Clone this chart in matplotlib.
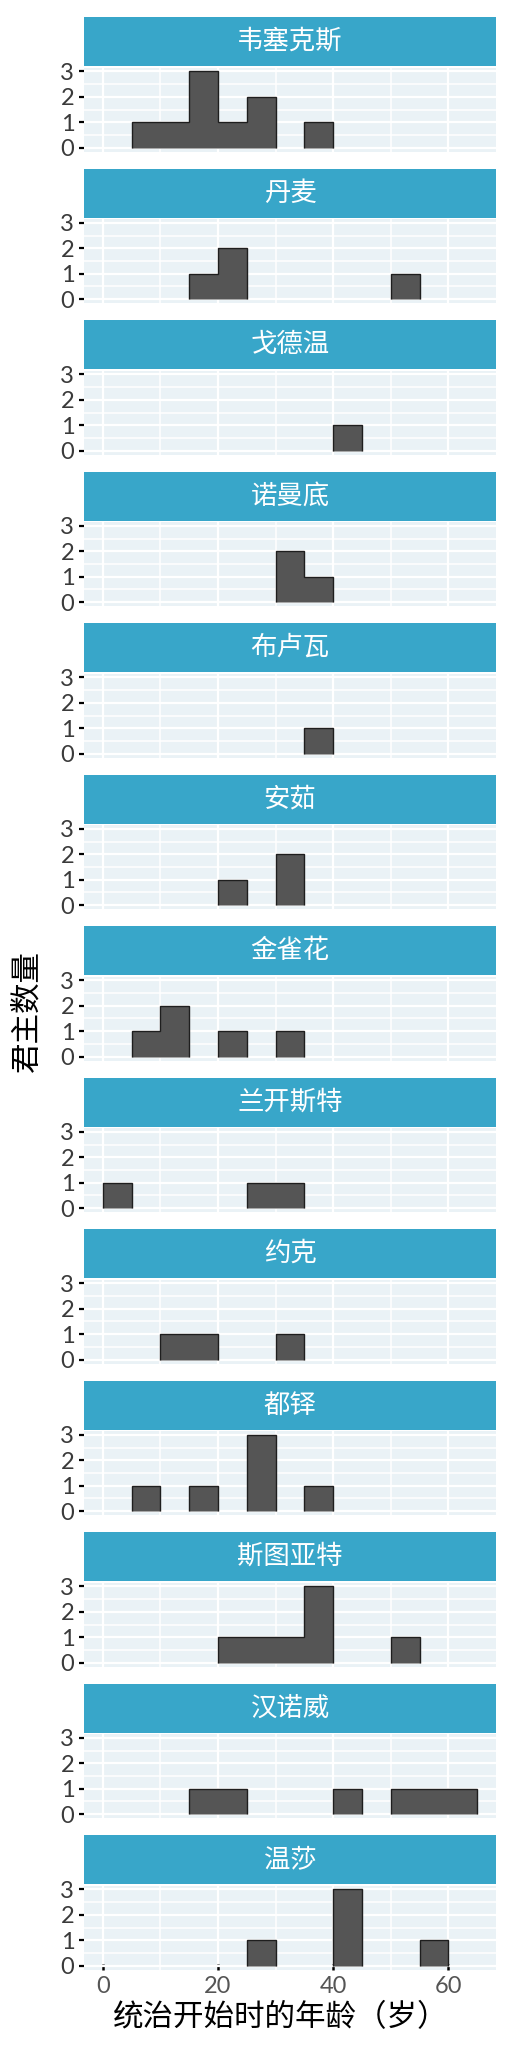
import numpy as np
import matplotlib
matplotlib.use("Agg")
import matplotlib.pyplot as plt

plt.rcParams['font.family'] = ['Lato', 'Noto Sans CJK SC', 'DejaVu Sans']

# houses, top to bottom
houses = ['韦塞克斯', '丹麦', '戈德温', '诺曼底', '布卢瓦', '安茹', '金雀花',
          '兰开斯特', '约克', '都铎', '斯图亚特', '汉诺威', '温莎']

# histogram bins of age at start of reign, width 5 years
bin_edges = [0, 5, 10, 15, 20, 25, 30, 35, 40, 45, 50, 55, 60, 65]

# number of monarchs per bin for each house
counts = {
    '韦塞克斯': [0, 1, 1, 3, 1, 2, 0, 1, 0, 0, 0, 0, 0],
    '丹麦':     [0, 0, 0, 1, 2, 0, 0, 0, 0, 0, 1, 0, 0],
    '戈德温':   [0, 0, 0, 0, 0, 0, 0, 0, 1, 0, 0, 0, 0],
    '诺曼底':   [0, 0, 0, 0, 0, 0, 2, 1, 0, 0, 0, 0, 0],
    '布卢瓦':   [0, 0, 0, 0, 0, 0, 0, 1, 0, 0, 0, 0, 0],
    '安茹':     [0, 0, 0, 0, 1, 0, 2, 0, 0, 0, 0, 0, 0],
    '金雀花':   [0, 1, 2, 0, 1, 0, 1, 0, 0, 0, 0, 0, 0],
    '兰开斯特': [1, 0, 0, 0, 0, 1, 1, 0, 0, 0, 0, 0, 0],
    '约克':     [0, 0, 1, 1, 0, 0, 1, 0, 0, 0, 0, 0, 0],
    '都铎':     [0, 1, 0, 1, 0, 3, 0, 1, 0, 0, 0, 0, 0],
    '斯图亚特': [0, 0, 0, 0, 1, 1, 1, 3, 0, 0, 1, 0, 0],
    '汉诺威':   [0, 0, 0, 1, 1, 0, 0, 0, 1, 0, 1, 1, 1],
    '温莎':     [0, 0, 0, 0, 0, 1, 0, 0, 3, 0, 0, 1, 0],
}

x_label = '统治开始时的年龄（岁）'
y_label = '君主数量'

W, H = 512, 2048
strip_col = '#38A6C9'
panel_col = '#EAF2F6'
bar_col = '#555555'
edge_col = '#1e1e1e'

fig = plt.figure(figsize=(W / 100, H / 100), dpi=100)

left, right = 84, 496
first_top = 17
step = 151.5
strip_h = 49
gap = 1.5
panel_h = 84


def fr(x, y, w, h):
    # pixel box (top-left origin) -> figure fraction
    return [x / W, 1 - (y + h) / H, w / W, h / H]


for i, house in enumerate(houses):
    top = first_top + i * step

    sax = fig.add_axes(fr(left, top, right - left, strip_h))
    sax.set_facecolor(strip_col)
    sax.set_xticks([])
    sax.set_yticks([])
    for s in sax.spines.values():
        s.set_visible(False)
    sax.text(0.5, 0.5, house, ha='center', va='center', color='white',
             fontsize=19, transform=sax.transAxes)

    ax = fig.add_axes(fr(left, top + strip_h + gap, right - left, panel_h))
    ax.set_facecolor(panel_col)
    for s in ax.spines.values():
        s.set_visible(False)
    ax.set_xlim(-3.25, 68.25)
    ax.set_ylim(-0.15, 3.15)
    ax.set_xticks([0, 20, 40, 60])
    ax.set_xticks([10, 30, 50], minor=True)
    ax.set_yticks([0, 1, 2, 3])
    ax.set_yticks([0.5, 1.5, 2.5], minor=True)
    ax.grid(which='major', color='white', linewidth=1.6)
    ax.grid(which='minor', color='white', linewidth=1.1)
    ax.set_axisbelow(True)

    # draw each run of non-empty bins as one outlined step shape
    c = np.array(counts[house])
    j = 0
    while j < len(c):
        if c[j] > 0:
            k = j
            while k < len(c) and c[k] > 0:
                k += 1
            ax.stairs(c[j:k], bin_edges[j:k + 1], baseline=0, fill=True,
                      facecolor=bar_col, edgecolor=edge_col, linewidth=1.0,
                      zorder=3)
            j = k
        else:
            j += 1

    ax.tick_params(axis='y', which='major', direction='out', length=3.5,
                   width=1.6, color='black', labelsize=17,
                   labelcolor='#3a3a3a', pad=3.5)
    ax.tick_params(axis='y', which='minor', length=0)
    ax.tick_params(axis='x', which='minor', length=0)
    if i == len(houses) - 1:
        ax.tick_params(axis='x', which='major', direction='in', length=4.5,
                       width=1.8, color='black', labelsize=17,
                       labelcolor='#555555', pad=5)
    else:
        ax.tick_params(axis='x', which='major', length=0, labelbottom=False)

fig.text(26 / W, 1 - 1011 / H, y_label, rotation=90, ha='center',
         va='center', fontsize=22, color='black')
fig.text(281 / W, 1 - 2017 / H, x_label, ha='center', va='center',
         fontsize=22, color='black')

fig.savefig('out.png', dpi=100, facecolor='white')
